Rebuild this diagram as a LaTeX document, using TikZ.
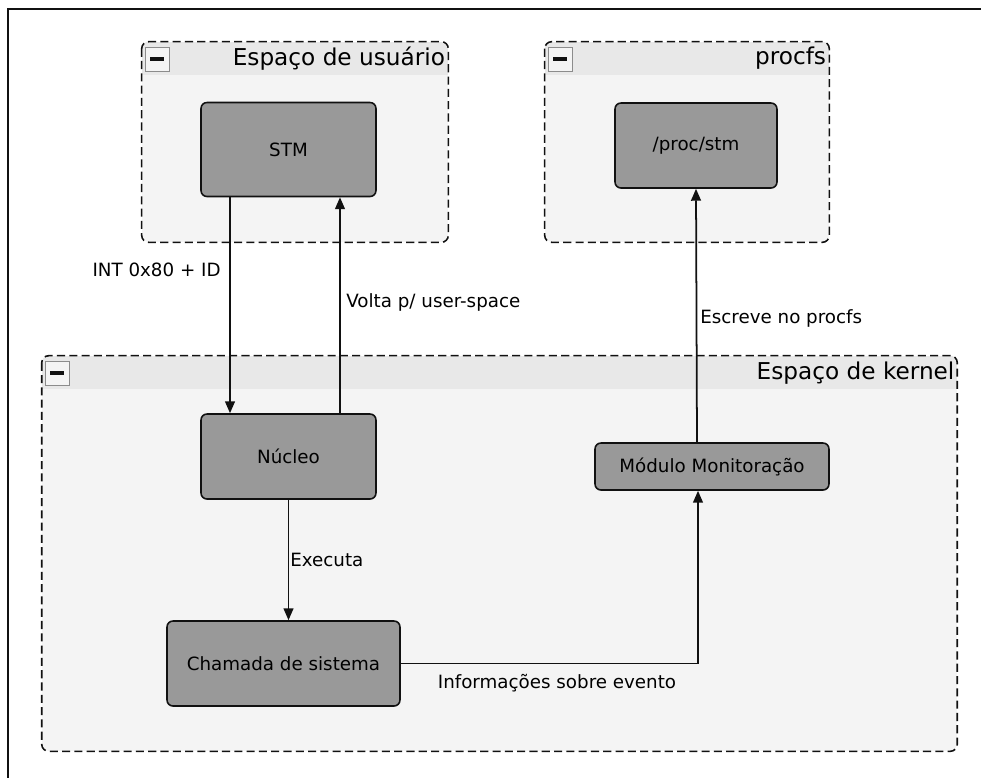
\documentclass[tikz,border=0pt]{standalone}
\usepackage{fontspec}
\setmainfont{DejaVu Sans}
\usepackage{tikz}
\usetikzlibrary{arrows.meta,positioning,calc}
\definecolor{grpBody}{HTML}{F4F4F4}
\definecolor{grpHead}{HTML}{E8E8E8}
\definecolor{boxGray}{HTML}{999999}
\definecolor{iconEdge}{HTML}{8C8C8C}
\definecolor{ink}{HTML}{111111}

\begin{document}
\begin{tikzpicture}[x=0.02cm,y=-0.02cm,
  font=\fontsize{10.4}{12.5}\selectfont,>={Triangle[length=6.8pt,width=5.6pt]},
  grupo/.style={rectangle,rounded corners=4pt,fill=grpBody,inner sep=0pt},
  borda/.style={draw=ink,line width=0.9pt,dash pattern=on 4.6pt off 2.4pt,rounded corners=4pt},
  cabeca/.style={fill=grpHead},
  titulo/.style={font=\fontsize{13.2}{15}\selectfont,anchor=east,inner sep=0pt},
  icone/.style={rectangle,draw=iconEdge,fill=grpBody,line width=0.7pt,minimum size=0.48cm,inner sep=0pt,
    path picture={\fill[ink] ([xshift=-0.14cm,yshift=-0.035cm]path picture bounding box.center) rectangle ([xshift=0.14cm,yshift=0.035cm]path picture bounding box.center);}},
  caixa/.style={rectangle,rounded corners=3.4pt,draw=ink,line width=0.9pt,fill=boxGray,inner sep=0pt},
  seta/.style={->,draw=ink,line width=1pt},
  rotulo/.style={inner sep=0pt}]
\useasboundingbox (0,0) rectangle (981,778);
% outer frame
\draw[ink,line width=1.1pt] (8,778) -- (8,9) -- (981,9);
% groups
\node[grupo,minimum width=6.12cm,minimum height=4cm] (usr) at (295,142) {};
\node[grupo,minimum width=5.68cm,minimum height=4cm] (prc) at (687,142) {};
\node[grupo,minimum width=18.3cm,minimum height=7.9cm] (ker) at (499.5,553.5) {};
\foreach \g in {usr,prc,ker}{
  \begin{scope}
    \clip[rounded corners=4pt] (\g.north west) rectangle (\g.south east);
    \fill[cabeca] (\g.north west) rectangle ([yshift=-0.67cm]\g.north east);
  \end{scope}
  \draw[borda] (\g.north west) rectangle (\g.south east);
  \node[icone] at ([xshift=0.31cm,yshift=-0.35cm]\g.north west) {};
}
\node[titulo] (usrT) at ([xshift=-0.06cm,yshift=-0.33cm]usr.north east) {Espaço de usuário};
\node[titulo] (prcT) at ([xshift=-0.06cm,yshift=-0.33cm]prc.north east) {procfs};
\node[titulo] (kerT) at ([xshift=-0.05cm,yshift=-0.35cm]ker.north east) {Espaço de kernel};
% boxes
\node[caixa,minimum width=3.5cm,minimum height=1.88cm] (stm) at (288.5,149.5) {STM};
\node[caixa,minimum width=3.24cm,minimum height=1.7cm] (proc) at (696,145.5) {/proc/stm};
\node[caixa,minimum width=3.5cm,minimum height=1.7cm] (nucleo) at (288.5,456.5) {Núcleo};
\node[caixa,minimum width=4.68cm,minimum height=0.94cm] (modulo) at (712,466.5) {Módulo Monitoração};
\node[caixa,minimum width=4.66cm,minimum height=1.7cm] (chamada) at (283.5,663.5) {Chamada de sistema};
% arrows
\draw[seta] ([xshift=-1.17cm]stm.south) -- ([xshift=-1.17cm]nucleo.north);
\draw[seta] ([xshift=1.03cm]nucleo.north) -- ([xshift=1.03cm]stm.south);
\draw[seta] (nucleo.south) -- (nucleo.south |- chamada.north);
\draw[seta] (chamada.east) -| ([xshift=-0.28cm]modulo.south);
\draw[seta] ([xshift=-0.3cm]modulo.north) -- (proc.south);
% labels
\node[rotulo,anchor=east] (lInt) at (221,270) {INT 0x80 + ID};
\node[rotulo,anchor=west] (lVolta) at (346,302) {Volta p/ user-space};
\node[rotulo,anchor=west] (lExec) at (290,560) {Executa};
\node[rotulo] (lInfo) at (557,683) {Informações sobre evento};
\node[rotulo,anchor=west] (lEscr) at (700,318) {Escreve no procfs};
\end{tikzpicture}
\end{document}
